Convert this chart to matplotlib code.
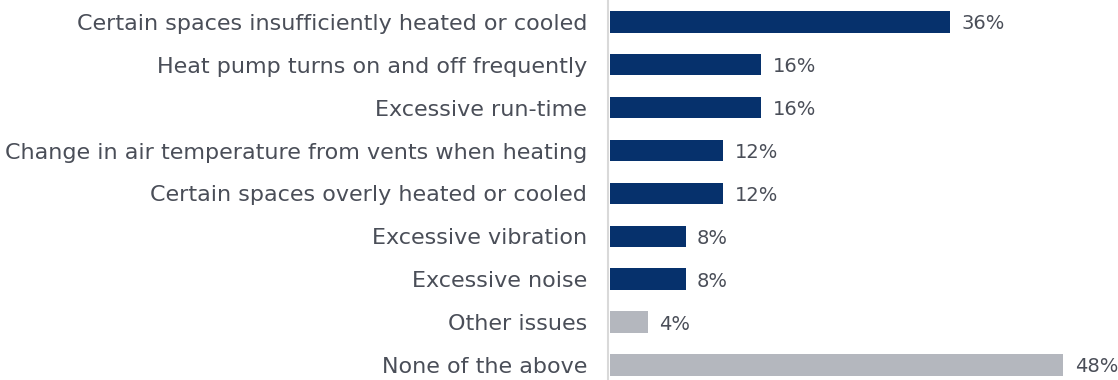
import matplotlib.pyplot as plt

categories = [
    "Certain spaces insufficiently heated or cooled",
    "Heat pump turns on and off frequently",
    "Excessive run-time",
    "Change in air temperature from vents when heating",
    "Certain spaces overly heated or cooled",
    "Excessive vibration",
    "Excessive noise",
    "Other issues",
    "None of the above",
]
values = [36, 16, 16, 12, 12, 8, 8, 4, 48]
highlight = [True, True, True, True, True, True, True, False, False]

navy = "#06316c"
grey = "#b4b7be"
text_col = "#4a4e58"

plt.rcParams['font.family'] = ['DejaVu Sans']

fig = plt.figure(figsize=(11.18, 3.8), dpi=100)
ax = fig.add_axes([0.544, 0.0, 0.456, 1.0])

ypos = list(range(len(categories)))
colors = [navy if h else grey for h in highlight]
ax.barh(ypos, values, height=0.5, color=colors, left=0.2)

for y, v in zip(ypos, values):
    ax.text(v + 0.2 + 1.2, y, f"{v}%", va="center_baseline", ha="left",
            fontsize=14, color=text_col, clip_on=False)

ax.set_yticks(ypos)
ax.set_yticklabels(categories, fontsize=16, color=text_col)
for lbl in ax.get_yticklabels():
    lbl.set_verticalalignment("center_baseline")
ax.tick_params(axis="y", length=0, pad=15)
ax.set_xticks([])
ax.set_xlim(0, 54)
ax.set_ylim(8.35, -0.51)

for side in ["top", "right", "bottom"]:
    ax.spines[side].set_visible(False)
ax.spines["left"].set_color("#d9d9d9")
ax.spines["left"].set_linewidth(1.5)

fig.savefig("out.png", dpi=100)
